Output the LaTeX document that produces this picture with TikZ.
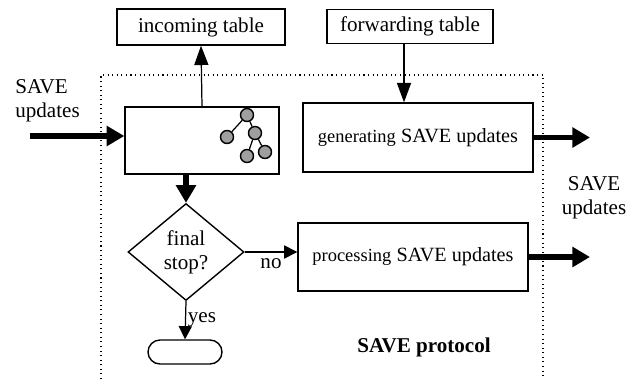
\documentclass[tikz,border=0pt]{standalone}
\usepackage{fontspec}
\setmainfont{Liberation Serif}
\usetikzlibrary{arrows.meta,shapes.geometric}
\newcommand{\lbl}{\fontsize{12}{13.5}\selectfont}

\begin{document}
\begin{tikzpicture}[x=0.02cm, y=-0.02cm,
    box/.style={draw, line width=0.8pt, font=\lbl, inner sep=2pt},
    leaf/.style={circle, draw, fill=gray!75, line width=0.8pt, minimum size=0.26cm, inner sep=0pt},
    arr/.style={line width=0.7pt, -{Triangle[length=11pt,width=8pt]}},
    arrs/.style={line width=0.7pt, -{Triangle[length=7.5pt,width=7.5pt]}},
    fat/.style={line width=3.4pt, -{Triangle[length=10pt,width=11pt]}}]
    \useasboundingbox (0,0) rectangle (641,379);
    % protocol frame, open at the bottom
    \draw[dotted, line width=0.6pt] (101,379) -- (101,75) -- (543,75) -- (543,379);
    \node[box, minimum width=3.36cm, minimum height=0.72cm] (inc) at (201,27) {incoming table};
    \node[box, minimum width=3.32cm, minimum height=0.68cm] (fwd) at (410,26.5) {forwarding table};
    \node[box, minimum width=3.08cm, minimum height=1.34cm] (main) at (202,140.5) {};
    \node[box, minimum width=4.6cm, minimum height=1.38cm] (gen) at (418,137.5)
      {{\fontsize{10.5}{12}\selectfont generating} {\fontsize{11.5}{13}\selectfont SAVE updates}};
    \node[box, minimum width=4.6cm, minimum height=1.36cm] (proc) at (413,257)
      {{\fontsize{10.5}{12}\selectfont processing} {\fontsize{11.5}{13}\selectfont SAVE updates}};
    \node[box, diamond, align=center, minimum width=2.32cm, minimum height=1.94cm, inner sep=0pt] (dia) at (186,252) {final\\stop?};
    \node[box, minimum width=1.48cm, minimum height=0.48cm, rounded corners=0.24cm] (term) at (185,352) {};
    % tree icon
    \node[leaf] (t1) at (247,115) {};
    \node[leaf] (t2) at (227,137) {};
    \node[leaf] (t3) at (255,133) {};
    \node[leaf] (t4) at (247,156) {};
    \node[leaf] (t5) at (265,152) {};
    \draw[line width=0.7pt] (t1) -- (t2) (t1) -- (t3) (t3) -- (t4) (t3) -- (t5);
    % outside labels
    \node[font=\lbl, align=left, anchor=west, inner sep=0pt] (insave) at (15,101) {SAVE\\updates};
    \node[font=\lbl, align=center, inner sep=0pt] (outsave) at (594,198) {SAVE\\updates};
    \node[font=\lbl\bfseries] (prot) at (424,347) {SAVE protocol};
    \coordinate (in) at (30,136);
    \coordinate (out1) at (590,137.5);
    \coordinate (out2) at (590,257);
    % connectors
    \draw[fat] (in) -- (in -| main.west);
    \draw[arr] (main.north) -- (inc.south);
    \draw[arr] (fwd.south -| 404,0) -- (gen.north -| 404,0);
    \draw[fat] (main.south -| dia.north) -- (dia.north);
    \draw[fat] (gen.east) -- (out1);
    \draw[fat] (proc.east) -- (out2);
    \draw[arrs] (dia.east) -- (dia.east -| proc.west) node[midway, below, font=\lbl] {no};
    \draw[arrs] (dia.south) -- (term.north) node[midway, right, font=\lbl, inner sep=1pt] {yes};
\end{tikzpicture}
\end{document}
